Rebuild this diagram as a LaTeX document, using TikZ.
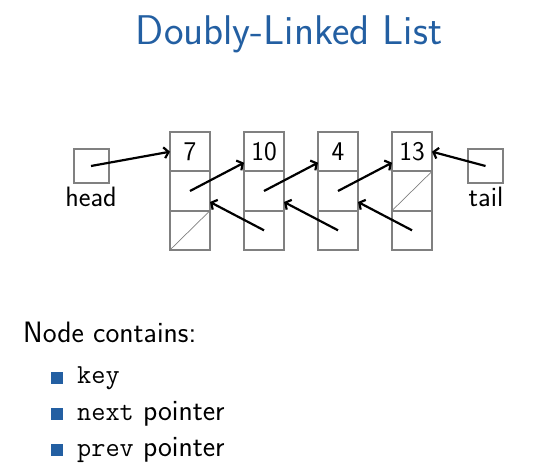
\documentclass[tikz,border=0pt]{standalone}
\usepackage{fontspec}
\usetikzlibrary{arrows.meta,calc}
\definecolor{slideblue}{RGB}{35,95,162}
\definecolor{boxgray}{RGB}{128,128,128}
\begin{document}
\begin{tikzpicture}[x=1pt,y=-1pt,
  cell/.style={draw=boxgray,line width=2pt,minimum width=40pt,minimum height=39.3pt,inner sep=0pt,outer sep=0pt,font=\sffamily\fontsize{27}{27}\selectfont},
  ptrbox/.style={draw=boxgray,line width=2pt,minimum width=35pt,minimum height=34pt,inner sep=0pt,outer sep=0pt},
  ptr/.style={line width=2.2pt,-{Straight Barb[length=4.5pt,width=11pt]}},
  nullline/.style={draw=boxgray,line width=0.7pt},
  lbl/.style={font=\sffamily\fontsize{28}{28}\selectfont,anchor=base,inner sep=0pt},
  bullet/.style={fill=slideblue,minimum size=12pt,inner sep=0pt},
  item/.style={anchor=base west,inner sep=0pt,font=\sffamily\fontsize{29.5}{29.5}\selectfont},
  mono/.style={font=\ttfamily\fontsize{27.5}{27.5}\selectfont}]
\useasboundingbox (0,0) rectangle (544,465);
% title
\node[anchor=base,inner sep=0pt,text=slideblue,font=\sffamily\fontsize{41.5}{41.5}\selectfont] (title) at (289,45) {Doubly-Linked List};
% list nodes
\foreach \i/\x/\v in {1/190/7,2/264/10,3/338/4,4/412/13}{
  \node[cell] (k\i) at (\x,151.7) {\v};
  \node[cell] (n\i) at (\x,191) {};
  \node[cell] (p\i) at (\x,230.3) {};
}
% null markers
\draw[nullline] (p1.south west) -- (p1.north east);
\draw[nullline] (n4.south west) -- (n4.north east);
% head and tail
\node[ptrbox] (head) at (91,166) {};
\node[ptrbox] (tail) at (485.5,166) {};
\node[lbl] (headlbl) at (91,207) {head};
\node[lbl] (taillbl) at (486,207) {tail};
% pointers
\draw[ptr] (head.center) -- (k1.west);
\draw[ptr] (tail.center) -- (k4.east);
\foreach \a/\b in {1/2,2/3,3/4}{
  \draw[ptr] (n\a.center) -- ($(k\b.west)+(0,11)$);
  \draw[ptr] (p\b.center) -- ($(n\a.east)+(0,11)$);
}
% text
\node[item] (nc) at (23,343) {Node contains:};
\node[bullet] (b1) at (56.5,377.5) {};
\node[bullet] (b2) at (56.5,413.5) {};
\node[bullet] (b3) at (56.5,449.5) {};
\node[item] (t1) at (77,383) {\ttfamily\fontsize{27.5}{27.5}\selectfont key};
\node[item] (t2) at (77,420) {{\ttfamily\fontsize{27.5}{27.5}\selectfont next} pointer};
\node[item] (t3) at (77,456) {{\ttfamily\fontsize{27.5}{27.5}\selectfont prev} pointer};
\end{tikzpicture}
\end{document}
